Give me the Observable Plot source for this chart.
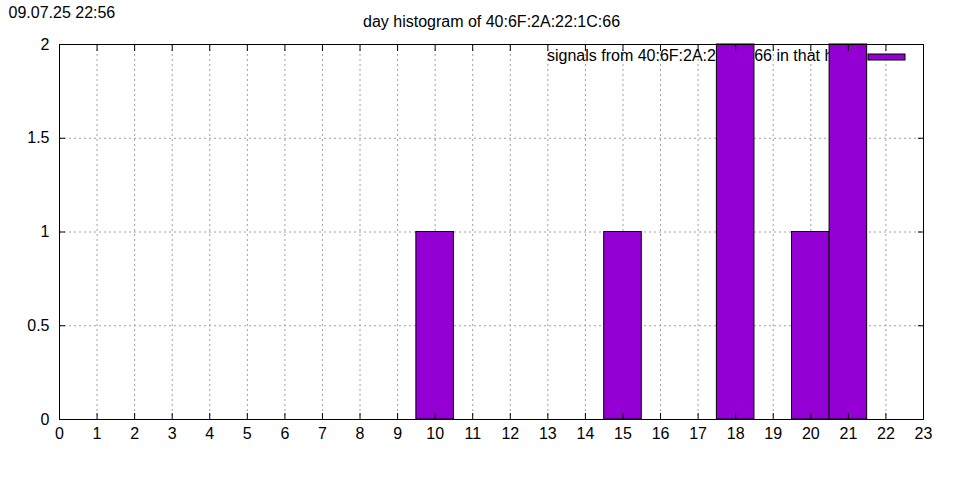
<!DOCTYPE html>
<html>
<head>
<meta charset="utf-8">
<script src="https://cdn.jsdelivr.net/npm/d3@7"></script>
<script src="https://cdn.jsdelivr.net/npm/@observablehq/plot@0.6"></script>
<style>
  html, body { margin: 0; padding: 0; background: #fff; }
  svg { font-family: "Liberation Sans", Arial, sans-serif; }
</style>
</head>
<body>
<div id="chart"></div>
<script>
const timestamp = "09.07.25 22:56";
const title = "day histogram of 40:6F:2A:22:1C:66";
const legendLabel = "signals from 40:6F:2A:22:1C:66 in that hour";
const hours = [10, 15, 18, 20, 21];
const counts = [1, 1, 2, 1, 2];
const xTicks = d3.range(0, 24);
const yTicks = [0, 0.5, 1, 1.5, 2];
const barColor = "#9400d3";

const data = hours.map((h, i) => ({hour: h, count: counts[i]}));

const swatch = (index, scales, values, dimensions) => {
  const {width, marginRight, marginTop} = dimensions;
  const right = width - marginRight;
  const g = d3.create("svg:g");
  g.append("rect")
    .attr("x", right - 55)
    .attr("y", marginTop + 10)
    .attr("width", 37)
    .attr("height", 6)
    .attr("fill", barColor)
    .attr("stroke", "#000")
    .attr("stroke-width", 1);
  return g.node();
};

const chart = Plot.plot({
  width: 960,
  height: 480,
  marginLeft: 59,
  marginRight: 37,
  marginTop: 44,
  marginBottom: 61,
  style: {fontSize: "16px", fontFamily: "Liberation Sans, Arial, sans-serif", color: "#000", background: "#fff"},
  x: {domain: [0, 23], label: null},
  y: {domain: [0, 2], label: null},
  marks: [
    Plot.gridX(xTicks.slice(1, -1), {stroke: "#a0a0a0", strokeOpacity: 1, strokeDasharray: "2,3"}),
    Plot.gridY(yTicks.slice(1, -1), {stroke: "#a0a0a0", strokeOpacity: 1, strokeDasharray: "2,3"}),
    Plot.text([legendLabel], {frameAnchor: "top-right", textAnchor: "end", lineAnchor: "middle", dx: -67, dy: 11, fontSize: 16, fill: "#000"}),
    Plot.rectY(data, {x1: d => d.hour - 0.5, x2: d => d.hour + 0.5, y: "count", fill: barColor, stroke: "#000", strokeWidth: 1}),
    swatch,
    Plot.axisX(xTicks, {anchor: "bottom", tickSize: 0, tickPadding: 8, fontSize: 16, fill: "#000", label: null}),
    Plot.axisX(xTicks, {anchor: "bottom", tickSize: -6, text: null, stroke: "#000", label: null}),
    Plot.axisX(xTicks, {anchor: "top", tickSize: -6, text: null, stroke: "#000", label: null}),
    Plot.axisY(yTicks, {anchor: "left", tickSize: 0, tickPadding: 10, fontSize: 16, fill: "#000", tickFormat: d => String(d), label: null}),
    Plot.axisY(yTicks, {anchor: "left", tickSize: -6, text: null, stroke: "#000", label: null}),
    Plot.axisY(yTicks, {anchor: "right", tickSize: -6, text: null, stroke: "#000", label: null}),
    Plot.frame({stroke: "#000", strokeWidth: 1}),
    Plot.text([title], {frameAnchor: "top", lineAnchor: "middle", dy: -23, fontSize: 16, fill: "#000"}),
    Plot.text([timestamp], {frameAnchor: "top-left", textAnchor: "start", lineAnchor: "middle", dx: -51, dy: -32, fontSize: 16, fill: "#000"})
  ]
});
document.getElementById("chart").appendChild(chart);
</script>
</body>
</html>
